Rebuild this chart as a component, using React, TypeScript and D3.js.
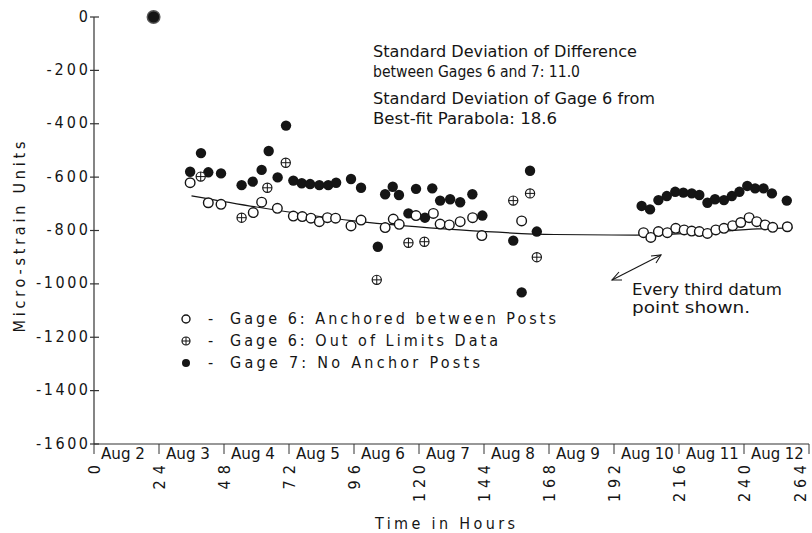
import * as d3 from 'd3';

// hours since start, micro-strain
const gage7Hours = [35.5, 39.5, 42.2, 46.9, 54.5, 58.6, 61.9, 64.5, 67.8, 70.9, 73.6, 76.7, 79.8, 83.2, 86.5, 89.4, 94.9, 98.6, 104.8, 107.5, 110.3, 112.6, 116.1, 118.9, 122.2, 124.9, 127.8, 131.5, 135.2, 139.7, 143.4, 154.8, 157.9, 161, 163.5, 202.2, 205.3, 208.4, 211.5, 214.6, 217.6, 220.7, 223.5, 226.5, 229.3, 232.6, 235.5, 238.3, 241.2, 244.1, 247.2, 250.3, 255.8];
const gage7Values = [-580, -510, -582, -586, -630, -617, -573, -502, -601, -407, -613, -623, -626, -630, -630, -621, -607, -640, -861, -664, -636, -667, -736, -644, -752, -642, -688, -683, -694, -664, -744, -838, -1032, -576, -804, -708, -721, -686, -671, -655, -658, -661, -667, -696, -683, -686, -671, -655, -633, -642, -642, -661, -688];

const outOfLimitsHours = [39.4, 54.5, 64, 70.8, 104.4, 116.1, 122, 154.8, 161, 163.5];
const outOfLimitsValues = [-598, -752, -640, -546, -985, -846, -842, -688, -661, -900];

const gage6Hours = [35.5, 42.2, 46.9, 58.8, 61.9, 67.7, 73.6, 76.9, 80.1, 83.2, 86.2, 89.2, 94.9, 98.6, 107.5, 110.5, 112.7, 118.9, 125.3, 127.8, 131.2, 135.2, 139.8, 143.2, 157.9, 202.9, 205.6, 208.4, 211.7, 214.8, 217.9, 220.7, 223.5, 226.5, 229.6, 232.6, 235.8, 238.8, 241.9, 244.7, 247.8, 250.6, 256];
const gage6Values = [-621, -696, -702, -733, -694, -717, -746, -748, -754, -767, -752, -754, -783, -761, -789, -757, -777, -744, -736, -776, -779, -767, -752, -819, -764, -808, -826, -804, -808, -792, -798, -802, -804, -811, -798, -792, -782, -770, -752, -767, -779, -788, -786];

// first reading, all gages together
const startHours = [22];
const startValues = [0];

// best-fit parabola
const fitHours = [36, 60, 96, 135, 170, 200, 225, 245, 258];
const fitValues = [-670, -712, -764, -798, -815, -817, -808, -794, -790];

const hourTicks = [0, 24, 48, 72, 96, 120, 144, 168, 192, 216, 240, 264];
const dayLabels = ['Aug 2', 'Aug 3', 'Aug 4', 'Aug 5', 'Aug 6', 'Aug 7', 'Aug 8', 'Aug 9', 'Aug 10', 'Aug 11', 'Aug 12'];
const strainTicks = [0, -200, -400, -600, -800, -1000, -1200, -1400, -1600];

const legendItems = [
  { kind: 'open', label: 'Gage 6: Anchored between Posts', w: 326 },
  { kind: 'cross', label: 'Gage 6: Out of Limits Data', w: 268 },
  { kind: 'filled', label: 'Gage 7: No Anchor Posts', w: 250 },
];

const FONT = "'DejaVu Sans Condensed', 'DejaVu Sans', sans-serif";
const INK = '#151515';

const Marker = ({ kind, cx, cy, r }: { kind: string; cx: number; cy: number; r: number }) => {
  if (kind === 'filled') {
    return <circle cx={cx} cy={cy} r={r} fill={INK} />;
  }
  if (kind === 'cross') {
    return (
      <g>
        <circle cx={cx} cy={cy} r={r} fill="white" stroke={INK} strokeWidth={1.2} />
        <line x1={cx - r} x2={cx + r} y1={cy} y2={cy} stroke={INK} strokeWidth={1} />
        <line x1={cx} x2={cx} y1={cy - r} y2={cy + r} stroke={INK} strokeWidth={1} />
      </g>
    );
  }
  return <circle cx={cx} cy={cy} r={r} fill="white" stroke={INK} strokeWidth={1.4} />;
};

export default function App() {
  const width = 812;
  const height = 533;

  const x = d3.scaleLinear().domain([0, 264]).range([94, 809]);
  const y = d3.scaleLinear().domain([0, -1600]).range([17, 444]);

  const fitLine = d3
    .line<number>()
    .x((_, i) => x(fitHours[i]))
    .y(d => y(d))
    .curve(d3.curveMonotoneX)(fitValues);

  const x0 = x(0);
  const yBottom = y(-1600);

  return (
    <svg
      width={width}
      height={height}
      style={{ position: 'absolute', left: 0, top: 0, background: 'white', fontStretch: 'condensed' }}
      fontFamily={FONT}
    >
      {/* axes */}
      <line x1={x0} x2={x0} y1={y(0)} y2={yBottom} stroke="#333" strokeWidth={1.2} />
      <line x1={x0} x2={x(264)} y1={yBottom} y2={yBottom} stroke="#333" strokeWidth={1.2} />

      {strainTicks.map(t => (
        <g key={`yt-${t}`}>
          <line x1={x0 - 4} x2={x0 + 5} y1={y(t)} y2={y(t)} stroke="#333" strokeWidth={1.2} />
          <text
            x={88}
            y={y(t)}
            dominantBaseline="middle"
            textAnchor="end"
            fontSize={16}
            fill={INK}
            textLength={String(t).length * 10.4}
            lengthAdjust="spacing"
          >
            {t}
          </text>
        </g>
      ))}

      {hourTicks.map(h => (
        <g key={`xt-${h}`}>
          <line x1={x(h)} x2={x(h)} y1={yBottom} y2={yBottom + 10} stroke="#333" strokeWidth={1} />
          <text
            transform={`translate(${Math.min(x(h) + 6, 806)},465) rotate(-90)`}
            textAnchor="end"
            fontSize={16}
            fill={INK}
            textLength={String(h).length * 12.3}
            lengthAdjust="spacing"
          >
            {h}
          </text>
        </g>
      ))}

      {dayLabels.map((d, i) => (
        <text
          key={`day-${d}`}
          x={x(hourTicks[i]) + 7}
          y={459}
          fontSize={16}
          fill={INK}
          textLength={d.length * 8.8}
          lengthAdjust="spacingAndGlyphs"
        >
          {d}
        </text>
      ))}

      {/* axis titles */}
      <text
        transform="translate(25,237) rotate(-90)"
        textAnchor="middle"
        fontSize={16}
        fill={INK}
        textLength={191}
        lengthAdjust="spacing"
      >
        Micro-strain Units
      </text>
      <text x={445} y={529} textAnchor="middle" fontSize={16} fill={INK} textLength={140} lengthAdjust="spacing">
        Time in Hours
      </text>

      {/* best-fit curve */}
      <path d={fitLine ?? ''} fill="none" stroke={INK} strokeWidth={1.2} />

      {/* data */}
      {gage7Values.map((v, i) => (
        <Marker key={`g7-${i}`} kind="filled" cx={x(gage7Hours[i])} cy={y(v)} r={5.2} />
      ))}
      {outOfLimitsValues.map((v, i) => (
        <Marker key={`ol-${i}`} kind="cross" cx={x(outOfLimitsHours[i])} cy={y(v)} r={4.6} />
      ))}
      {gage6Values.map((v, i) => (
        <Marker key={`g6-${i}`} kind="open" cx={x(gage6Hours[i])} cy={y(v)} r={4.8} />
      ))}
      {startValues.map((v, i) => (
        <g key={`st-${i}`}>
          <circle cx={x(startHours[i])} cy={y(v)} r={7} fill="#555" />
          <circle cx={x(startHours[i])} cy={y(v)} r={5.6} fill={INK} />
        </g>
      ))}

      {/* annotations */}
      <g fontSize={16} fill={INK}>
        <text x={373} y={57} textLength={264} lengthAdjust="spacingAndGlyphs">Standard Deviation of Difference</text>
        <text x={373} y={77} textLength={207} lengthAdjust="spacingAndGlyphs">between Gages 6 and 7: 11.0</text>
        <text x={373} y={104} textLength={282} lengthAdjust="spacingAndGlyphs">Standard Deviation of Gage 6 from</text>
        <text x={373} y={124} textLength={184} lengthAdjust="spacingAndGlyphs">Best-fit Parabola: 18.6</text>
        <text x={632} y={295} textLength={150} lengthAdjust="spacingAndGlyphs">Every third datum</text>
        <text x={632} y={313} textLength={118} lengthAdjust="spacingAndGlyphs">point shown.</text>
      </g>
      <g stroke={INK} strokeWidth={1.1} fill="none">
        <line x1={612} y1={280} x2={661} y2={255} />
        <path d="M619,272 L612,280 L622,280" />
        <path d="M651,256 L661,255 L656,263" />
      </g>

      {/* legend */}
      {legendItems.map((item, i) => {
        const cy = 319 + i * 22;
        return (
          <g key={`lg-${item.kind}`}>
            <Marker kind={item.kind} cx={186} cy={cy} r={4} />
            <text x={208} y={cy + 5} fontSize={16} fill={INK}>-</text>
            <text x={230} y={cy + 5} fontSize={16} fill={INK} textLength={item.w} lengthAdjust="spacing">
              {item.label}
            </text>
          </g>
        );
      })}
    </svg>
  );
}
